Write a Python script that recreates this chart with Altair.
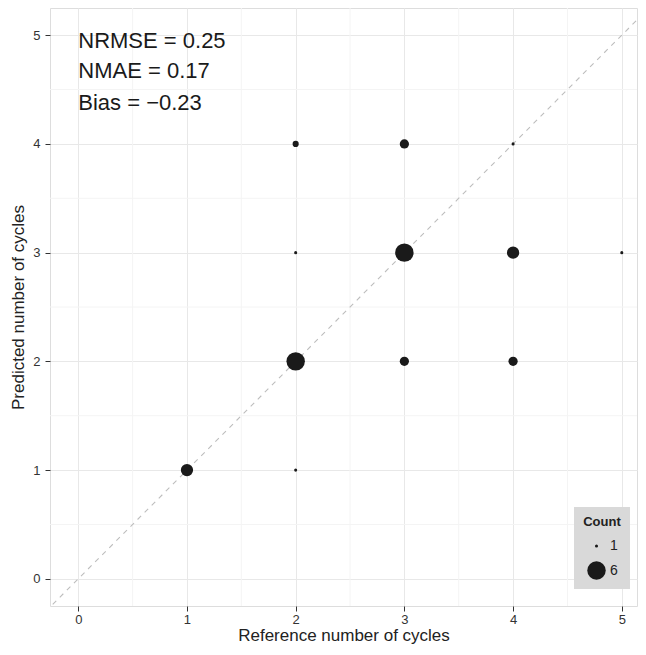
import altair as alt
import pandas as pd

# data
ref_cycles = [1, 2, 2, 2, 2, 3, 3, 3, 4, 4, 4, 5]
pred_cycles = [1, 1, 2, 3, 4, 2, 3, 4, 2, 3, 4, 3]
counts = [4, 1, 6, 1, 2, 3, 6, 3, 3, 4, 1, 1]

stat_labels = ["NRMSE = 0.25", "NMAE = 0.17", "Bias = \u22120.23"]
stat_y = [4.95, 4.67, 4.38]

major_ticks = [0, 1, 2, 3, 4, 5]
minor_ticks = [0.5, 1.5, 2.5, 3.5, 4.5]

x_dom = [-0.26, 5.14]
y_dom = [-0.25, 5.25]

pts = pd.DataFrame({"ref": ref_cycles, "pred": pred_cycles, "Count": counts})
txt = pd.DataFrame({"label": stat_labels, "y": stat_y, "x": [0] * len(stat_labels)})
minor = pd.DataFrame({"v": minor_ticks})
diag = pd.DataFrame({"a": [-0.3, 5.3]})

FONT = "Liberation Sans"

xs = alt.Scale(domain=x_dom, nice=False, zero=False)
ys = alt.Scale(domain=y_dom, nice=False, zero=False)

xaxis = alt.Axis(values=major_ticks, format="d", title="Reference number of cycles", grid=True,
                 gridColor="#e8e8e8", domain=False, tickColor="#333333", tickSize=5,
                 labelFontSize=13, labelColor="#333333", labelFont=FONT, labelPadding=2,
                 titleFontSize=17, titleFont=FONT, titleFontWeight="normal",
                 titleColor="#222222", titlePadding=1)
yaxis = alt.Axis(values=major_ticks, format="d", title="Predicted number of cycles", grid=True,
                 gridColor="#e8e8e8", domain=False, tickColor="#333333", tickSize=5,
                 labelFontSize=13, labelColor="#333333", labelFont=FONT, labelPadding=5,
                 titleFontSize=17, titleFont=FONT, titleFontWeight="normal",
                 titleColor="#222222", titlePadding=5)

minor_x = alt.Chart(minor).mark_rule(color="#f4f4f4", strokeWidth=1).encode(
    x=alt.X("v:Q", scale=xs, axis=xaxis))
minor_y = alt.Chart(minor).mark_rule(color="#f4f4f4", strokeWidth=1).encode(
    y=alt.Y("v:Q", scale=ys, axis=yaxis))

diag_line = alt.Chart(diag).mark_line(color="#bdbdbd", strokeDash=[5, 5], strokeWidth=1.1,
                                      clip=True).encode(
    x=alt.X("a:Q", scale=xs), y=alt.Y("a:Q", scale=ys))

points = alt.Chart(pts).mark_circle(color="#1a1a1a", opacity=1).encode(
    x=alt.X("ref:Q", scale=xs),
    y=alt.Y("pred:Q", scale=ys),
    size=alt.Size("Count:Q",
                  scale=alt.Scale(type="pow", exponent=2, domain=[0, 6], range=[0, 340]),
                  legend=alt.Legend(values=[1, 6], title="Count", orient="none",
                                    legendX=524, legendY=499, fillColor="#d9d9d9",
                                    padding=9, titleFontSize=13, titleFont=FONT,
                                    titleFontWeight="bold", titleColor="#222222",
                                    titleAlign="center", titleAnchor="middle", titlePadding=10,
                                    labelFontSize=14, labelFont=FONT, labelColor="#222222",
                                    labelOffset=4,
                                    symbolFillColor="#1a1a1a", symbolStrokeWidth=0,
                                    symbolOpacity=1, rowPadding=8, symbolType="circle")),
)

texts = alt.Chart(txt).mark_text(align="left", baseline="middle", fontSize=22, font=FONT,
                                 color="#1a1a1a").encode(
    x=alt.X("x:Q", scale=xs), y=alt.Y("y:Q", scale=ys), text="label:N")

chart = alt.layer(minor_x, minor_y, diag_line, points, texts).properties(
    width=587, height=598,
    autosize=alt.AutoSizeParams(type="none"),
    padding={"left": 42, "top": 0, "right": 1, "bottom": 41},
).configure_view(stroke="#7f7f7f", strokeWidth=1).configure(background="white")

chart.save("out.html", embed_options={"renderer": "svg", "actions": False})
